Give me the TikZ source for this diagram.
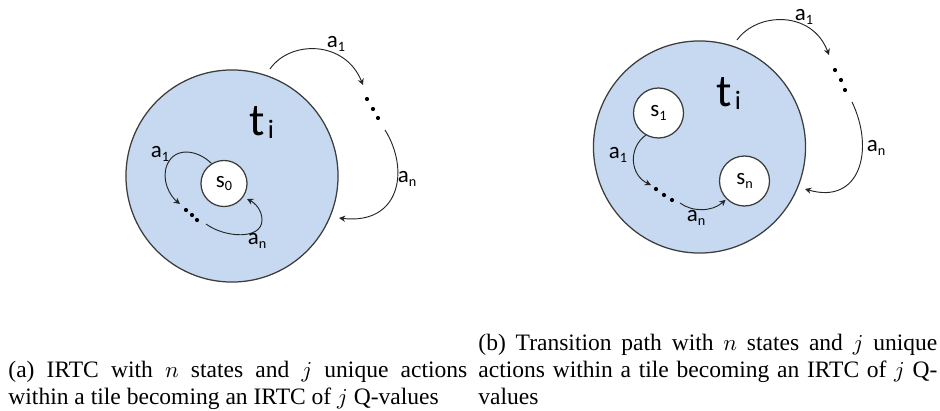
\documentclass[tikz,border=0pt]{standalone}
\usepackage{fontspec}
\setmainfont{Liberation Serif}
\newfontfamily\diagfont{Carlito}
\usetikzlibrary{arrows.meta}
\definecolor{tilefill}{RGB}{198,217,240}
\definecolor{edgegray}{RGB}{60,60,60}
\newcommand\lsub[2]{#1\raisebox{-0.35ex}{\scalebox{0.62}{#2}}}
\newcommand\bigsub[2]{#1\hspace{1.5pt}\raisebox{-0.1ex}{\scalebox{0.58}{#2}}}
\begin{document}
\begin{tikzpicture}[x=0.48pt,y=-0.48pt,
  tile/.style={circle, draw=edgegray, line width=0.6pt, fill=tilefill, inner sep=0pt, minimum size=101.8pt},
  state/.style={circle, draw=edgegray, line width=0.6pt, fill=white, inner sep=0pt, font=\diagfont\fontsize{11}{13}\selectfont},
  lbl/.style={font=\diagfont\fontsize{11}{13}\selectfont, inner sep=0pt},
  bigl/.style={font=\diagfont\fontsize{22}{26}\selectfont, inner sep=0pt, anchor=base west},
  dotn/.style={circle, fill=black, inner sep=0pt, minimum size=2pt},
  arr/.style={-{Stealth[length=3pt,width=3pt]}, line width=0.45pt, draw=black!85},
  captext/.style={font=\fontsize{11.3}{13}\selectfont, text width=220.3pt, align=justify, inner sep=0pt, anchor=base west}
]
\useasboundingbox (0,0) rectangle (940,411);

% ---------- left diagram ----------
\node[tile] (T1) at (232,176) {};
\node[state, minimum size=22.1pt] (s0) at (224,183.5) {\lsub{s}{0}};
\node[bigl] (ti1) at (249,136) {\bigsub{t}{i}};

\coordinate (o1s) at (270,69);
\coordinate (o1e) at (363,85);
\node[dotn] (d1a) at (367,99) {};
\node[dotn] (d1b) at (373,109) {};
\node[dotn] (d1c) at (378,118) {};
\coordinate (o2s) at (385,130);
\coordinate (o2e) at (339,218);
\draw[arr] (o1s) .. controls (290,40) and (345,40) .. (o1e);
\draw[arr] (o2s) .. controls (410,170) and (400,225) .. (o2e);
\node[lbl] (la1) at (336,44) {\lsub{a}{1}};
\node[lbl] (lan1) at (407,179) {\lsub{a}{n}};

\coordinate (i1e) at (180,204);
\node[dotn] (e1a) at (186,210) {};
\node[dotn] (e1b) at (192,215) {};
\node[dotn] (e1c) at (197,220) {};
\coordinate (i2s) at (206,224);
\coordinate (i2e) at (247,199);
\draw[arr] (s0.122) .. controls (198,150) and (175,146) .. (167,165) .. controls (161,180) and (170,196) .. (i1e);
\draw[arr] (i2s) .. controls (225,238) and (262,240) .. (262,220) .. controls (262,210) and (255,203) .. (i2e);
\node[lbl] (lb1) at (160,154) {\lsub{a}{1}};
\node[lbl] (lbn1) at (257,241) {\lsub{a}{n}};

% ---------- right diagram ----------
\node[tile] (T2) at (699.5,147) {};
\node[state, minimum size=24pt] (s1) at (658.5,113) {\lsub{s}{1}};
\node[state, minimum size=24pt] (sn) at (744.5,181) {\lsub{s}{n}};
\node[bigl] (ti2) at (716,107) {\bigsub{t}{i}};

\coordinate (p1s) at (737,40);
\coordinate (p1e) at (829,55);
\node[dotn] (d2a) at (835,70) {};
\node[dotn] (d2b) at (841,80) {};
\node[dotn] (d2c) at (845,90) {};
\coordinate (p2s) at (852,102);
\coordinate (p2e) at (805,189);
\draw[arr] (p1s) .. controls (757,12) and (812,10) .. (p1e);
\draw[arr] (p2s) .. controls (875,150) and (860,205) .. (p2e);
\node[lbl] (la2) at (804,17) {\lsub{a}{1}};
\node[lbl] (lan2) at (876,148) {\lsub{a}{n}};

\coordinate (q1e) at (651,185);
\node[dotn] (e2a) at (656,189) {};
\node[dotn] (e2b) at (664,195) {};
\node[dotn] (e2c) at (672,200) {};
\coordinate (q2s) at (680,203);
\draw[arr] (s1.-120) .. controls (628,148) and (630,175) .. (q1e);
\draw[arr, shorten >=0.5pt] (q2s) .. controls (692,212) and (712,212) .. (sn.-135);
\node[lbl] (lb2) at (618,155) {\lsub{a}{1}};
\node[lbl] (lbn2) at (696,218) {\lsub{a}{n}};

% ---------- captions ----------
\node[captext] (capa) at (8,377) {(a) IRTC with $n$ states and $j$ unique actions\linebreak within a tile becoming an IRTC of $j$ Q-values};
\node[captext] (capb) at (478,350) {(b) Transition path with $n$ states and $j$ unique\linebreak actions within a tile becoming an IRTC of $j$ Q-\linebreak values};
\end{tikzpicture}
\end{document}
